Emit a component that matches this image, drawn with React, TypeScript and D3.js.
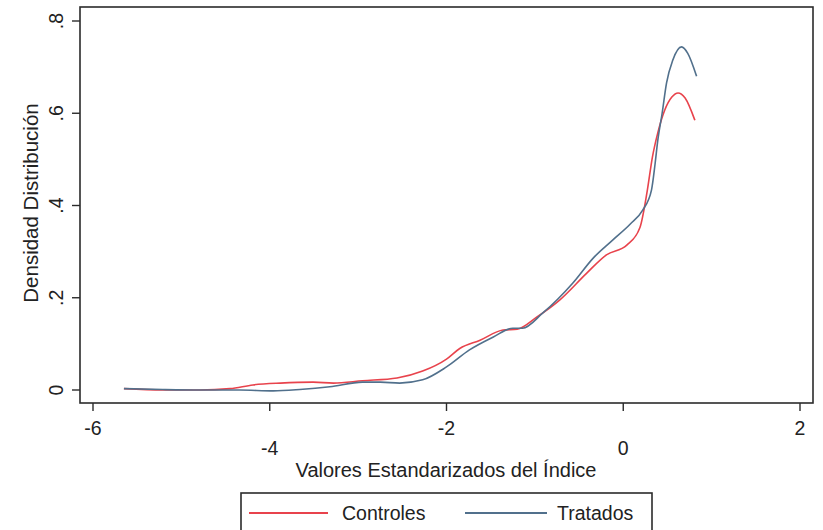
import React from "react";
import * as d3 from "d3";

const controlesX = [-5.65, -5.21, -4.79, -4.45, -4.19, -3.88, -3.51, -3.28, -2.95, -2.56, -2.27, -2.0, -1.85, -1.62, -1.36, -1.2, -0.98, -0.72, -0.41, -0.19, 0.04, 0.19, 0.27, 0.33, 0.39, 0.47, 0.55, 0.62, 0.7, 0.81];
const controlesY = [0.003, 0.0, 0.0, 0.003, 0.011, 0.015, 0.017, 0.015, 0.02, 0.026, 0.041, 0.067, 0.09, 0.108, 0.13, 0.132, 0.158, 0.195, 0.254, 0.293, 0.314, 0.353, 0.43, 0.505, 0.557, 0.607, 0.635, 0.644, 0.633, 0.585];

const tratadosX = [-5.65, -5.21, -4.79, -4.34, -3.96, -3.66, -3.32, -2.95, -2.75, -2.53, -2.27, -2.0, -1.74, -1.47, -1.25, -1.14, -0.91, -0.57, -0.34, -0.12, 0.08, 0.22, 0.32, 0.36, 0.39, 0.44, 0.49, 0.56, 0.66, 0.73, 0.83];
const tratadosY = [0.003, 0.001, 0.0, 0.0, -0.002, 0.001, 0.007, 0.017, 0.017, 0.015, 0.022, 0.05, 0.087, 0.115, 0.134, 0.134, 0.167, 0.232, 0.286, 0.325, 0.36, 0.39, 0.434, 0.49, 0.54, 0.6, 0.666, 0.715, 0.744, 0.73, 0.68];

const xTicks = [-6, -4, -2, 0, 2];
const yTicks = [0, 0.2, 0.4, 0.6, 0.8];
const yTickLabels = ["0", ".2", ".4", ".6", ".8"];
const seriesNames = ["Controles", "Tratados"];

const RED = "#e8434c";
const BLUE = "#51708c";
const AXIS = "#2b2b2b";
const FONT = "'Liberation Sans', Arial, sans-serif";

export default function App() {
  const x = d3.scaleLinear().domain([-6, 2]).range([93, 800]);
  const y = d3.scaleLinear().domain([0, 0.8]).range([390, 21]);
  const box = { left: 80, right: 813, top: 7, bottom: 403 };

  const line = d3
    .line<[number, number]>()
    .x((d) => x(d[0]))
    .y((d) => y(d[1]))
    .curve(d3.curveMonotoneX);

  const redPts = controlesX.map((v, i) => [v, controlesY[i]] as [number, number]);
  const bluePts = tratadosX.map((v, i) => [v, tratadosY[i]] as [number, number]);

  return (
    <svg
      width={823}
      height={530}
      style={{ position: "absolute", left: 0, top: 0, background: "#fff" }}
      fontFamily={FONT}
    >
      <rect x={0} y={0} width={823} height={530} fill="#fff" />
      <rect
        x={box.left}
        y={box.top}
        width={box.right - box.left}
        height={box.bottom - box.top}
        fill="#fff"
        stroke={AXIS}
        strokeWidth={1.6}
      />
      {/* y ticks */}
      {yTicks.map((t, i) => (
        <g key={"y" + i}>
          <line x1={box.left - 8} x2={box.left} y1={y(t)} y2={y(t)} stroke={AXIS} strokeWidth={1.4} />
          <text
            transform={`translate(63,${y(t)}) rotate(-90)`}
            textAnchor="middle"
            fontSize={19.5}
            fill="#222"
          >
            {yTickLabels[i]}
          </text>
        </g>
      ))}
      {/* x ticks */}
      {xTicks.map((t, i) => (
        <g key={"x" + i}>
          <line x1={x(t)} x2={x(t)} y1={box.bottom} y2={box.bottom + 8} stroke={AXIS} strokeWidth={1.4} />
          <text x={x(t)} y={i % 2 === 0 ? 435 : 455} textAnchor="middle" fontSize={19.5} fill="#222">
            {t < 0 ? "-" + Math.abs(t) : String(t)}
          </text>
        </g>
      ))}
      <text
        transform="translate(38,203) rotate(-90)"
        textAnchor="middle"
        fontSize={20.5}
        fill="#222"
      >
        Densidad Distribución
      </text>
      <text x={446} y={477} textAnchor="middle" fontSize={20} fill="#222">
        Valores Estandarizados del Índice
      </text>
      <path d={line(redPts) || ""} fill="none" stroke={RED} strokeWidth={1.6} />
      <path d={line(bluePts) || ""} fill="none" stroke={BLUE} strokeWidth={1.6} />
      {/* legend */}
      <rect x={241} y={493} width={411} height={50} fill="#fff" stroke={AXIS} strokeWidth={1.6} />
      <line x1={249} x2={328} y1={513} y2={513} stroke={RED} strokeWidth={1.8} />
      <text x={342} y={520} fontSize={19.5} fill="#222">
        {seriesNames[0]}
      </text>
      <line x1={465} x2={547} y1={513} y2={513} stroke={BLUE} strokeWidth={1.8} />
      <text x={557} y={520} fontSize={19.5} fill="#222">
        {seriesNames[1]}
      </text>
    </svg>
  );
}
